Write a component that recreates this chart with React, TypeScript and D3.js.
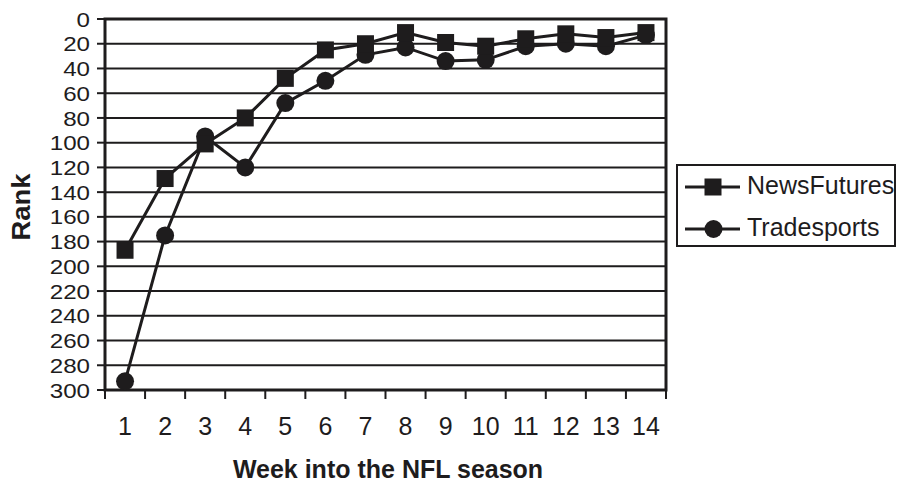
import React from "react";
import * as d3 from "d3";

const weeks = ["1", "2", "3", "4", "5", "6", "7", "8", "9", "10", "11", "12", "13", "14"];
const newsFutures = [187, 129, 101, 80, 48, 25, 20, 11, 19, 22, 16, 12, 15, 11];
const tradesports = [293, 175, 95, 120, 68, 50, 29, 23, 34, 33, 22, 20, 22, 13];
const yTicks = d3.range(0, 301, 20);

const W = 897, H = 482;
const L = 105, R = 666, T = 19, B = 390;
const INK = "#1e1c1d";
const FONT = "'Liberation Sans', Arial, sans-serif";

function T2(props: { x: number; y: number; sx?: number; rot?: number; anchor?: string; size: number; bold?: boolean; dy?: string; children: React.ReactNode }) {
  const { x, y, sx = 1, rot = 0, anchor = "start", size, bold, dy, children } = props;
  return (
    <g transform={`translate(${x},${y}) rotate(${rot}) scale(${sx},1)`}>
      <text x={0} y={0} dy={dy} textAnchor={anchor as any} fontFamily={FONT} fontSize={size} fontWeight={bold ? "bold" : "normal"} fill={INK}>
        {children}
      </text>
    </g>
  );
}

export default function App() {
  const x = d3.scaleBand<string>().domain(weeks).range([L, R]).padding(0);
  const y = d3.scaleLinear().domain([0, 300]).range([T, B]);
  const cx = (w: string) => (x(w) as number) + x.bandwidth() / 2;
  const line = d3.line<number>().x((_, i) => cx(weeks[i])).y((v) => y(v));
  const bounds = weeks.map((w) => x(w) as number).concat([R]);
  const sq = 17;
  const rad = 9;

  return (
    <svg width={W} height={H} style={{ position: "absolute", left: 0, top: 0, background: "#fff" }}>
      {yTicks.map((t) => (
        <g key={t}>
          <line x1={L} x2={R} y1={y(t)} y2={y(t)} stroke={INK} strokeWidth={2} />
          <line x1={L - 8} x2={L} y1={y(t)} y2={y(t)} stroke={INK} strokeWidth={2} />
          <T2 x={L - 15} y={y(t)} dy="0.36em" anchor="end" size={21} sx={1.15}>{t}</T2>
        </g>
      ))}
      {bounds.map((b, i) => (
        <line key={i} x1={b} x2={b} y1={B} y2={B + 9} stroke={INK} strokeWidth={2} />
      ))}
      {weeks.map((w) => (
        <T2 key={w} x={cx(w)} y={435} anchor="middle" size={25}>{w}</T2>
      ))}
      <rect x={L} y={T} width={R - L} height={B - T} fill="none" stroke={INK} strokeWidth={3} />
      <path d={line(tradesports) || ""} fill="none" stroke={INK} strokeWidth={3} />
      <path d={line(newsFutures) || ""} fill="none" stroke={INK} strokeWidth={3} />
      {tradesports.map((v, i) => (
        <circle key={"c" + i} cx={cx(weeks[i])} cy={y(v)} r={rad} fill={INK} />
      ))}
      {newsFutures.map((v, i) => (
        <rect key={"s" + i} x={cx(weeks[i]) - sq / 2} y={y(v) - sq / 2} width={sq} height={sq} fill={INK} />
      ))}
      <T2 x={30} y={207} rot={-90} anchor="middle" size={25} bold sx={1.1}>Rank</T2>
      <T2 x={388} y={478} anchor="middle" size={25} bold>Week into the NFL season</T2>
      <g>
        <rect x={677} y={165} width={218} height={81} fill="#fff" stroke={INK} strokeWidth={2} />
        <line x1={685} x2={740} y1={187} y2={187} stroke={INK} strokeWidth={3} />
        <rect x={713 - sq / 2} y={187 - sq / 2} width={sq} height={sq} fill={INK} />
        <T2 x={747} y={194} size={25}>NewsFutures</T2>
        <line x1={685} x2={740} y1={229} y2={229} stroke={INK} strokeWidth={3} />
        <circle cx={713.5} cy={229} r={rad} fill={INK} />
        <T2 x={747} y={236} size={25}>Tradesports</T2>
      </g>
    </svg>
  );
}
